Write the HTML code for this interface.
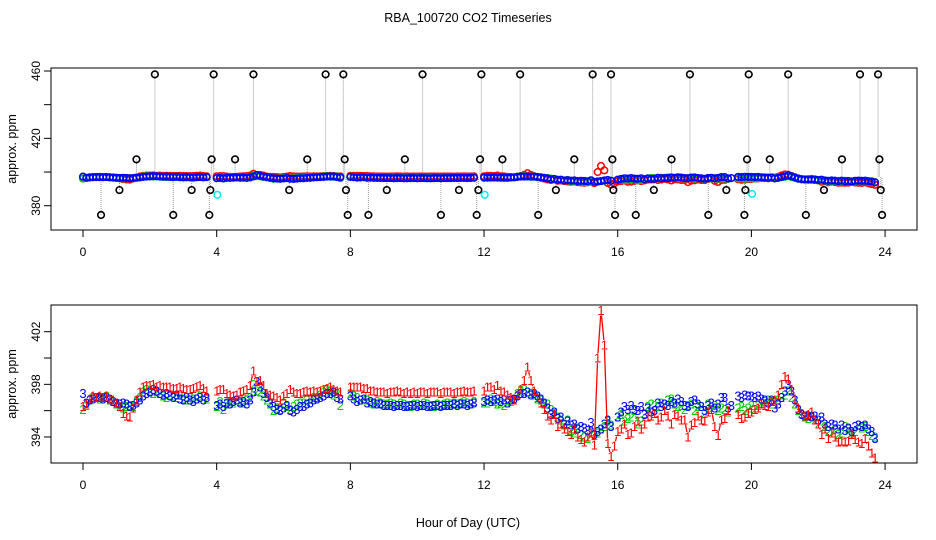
<!DOCTYPE html>
<html><head><meta charset="utf-8"><style>
html,body{margin:0;padding:0;background:#fff;}
svg{display:block;font-family:"Liberation Sans",sans-serif;}
</style></head><body>
<svg id="chart" width="936" height="540" viewBox="0 0 936 540">
<text x="468" y="22" text-anchor="middle" font-size="12.5">RBA_100720  CO2 Timeseries</text>
<text x="468" y="527" text-anchor="middle" font-size="12.5">Hour of Day (UTC)</text>
<g id="top"></g>
<g id="bot"></g>
</svg>
<script>
const step = 0.1;
const s1 = [396.3,396.5,396.9,397.1,397.0,397.1,397.0,397.1,396.9,396.8,
396.6,396.3,395.8,395.6,395.5,396.2,396.8,397.4,397.8,397.9,
397.9,398.0,397.8,397.9,397.8,397.8,397.8,397.7,397.7,397.8,
397.7,397.6,397.6,397.7,397.8,397.9,397.7,397.5,null,null,
397.5,397.6,397.6,397.3,397.2,397.1,397.2,397.4,397.5,397.6,
397.9,399.0,398.2,398.3,397.9,397.3,397.2,397.1,397.0,396.8,
397.1,397.3,397.6,397.4,397.3,397.3,397.4,397.5,397.4,397.5,
397.4,397.5,397.6,397.7,397.8,397.6,397.5,397.4,null,null,
397.8,397.8,397.8,397.8,397.7,397.7,397.5,397.5,397.4,397.4,
397.4,397.3,397.4,397.4,397.5,397.4,397.3,397.4,397.3,397.4,
397.3,397.4,397.4,397.3,397.4,397.4,397.4,397.3,397.4,397.4,
397.4,397.3,397.4,397.4,397.5,397.4,397.4,397.5,null,null,
397.5,397.8,397.8,397.6,397.9,397.5,397.4,397.2,397.0,396.8,
397.2,397.6,398.3,399.3,398.3,397.5,397.0,396.6,396.1,395.6,
395.3,395.7,394.8,395.0,394.6,394.4,394.2,394.6,394.0,393.8,
393.6,394.0,394.3,393.4,400.0,403.6,401.0,393.5,392.5,393.3,
394.4,394.6,395.0,394.2,394.3,394.8,395.2,394.6,395.0,395.5,
395.6,395.8,395.3,395.5,396.0,395.6,395.0,395.7,395.6,395.3,
395.3,394.0,394.9,395.1,395.6,395.3,395.2,395.9,396.1,394.8,
394.1,395.3,395.4,396.0,null,null,395.7,395.4,395.5,395.8,
395.9,396.1,396.2,396.5,396.4,396.3,396.7,396.8,397.2,398.0,
398.6,398.4,397.6,396.9,396.2,395.8,395.6,395.7,395.9,395.3,
395.0,394.2,394.6,393.9,394.3,394.0,393.6,393.7,393.6,393.7,
394.2,393.8,393.6,393.5,393.9,393.3,392.8,392.4,null,null];
const s2 = [396.1,396.4,396.8,397.0,397.0,396.9,397.0,397.1,396.8,396.7,
396.5,396.3,396.2,396.3,396.4,396.3,396.7,397.0,397.4,397.6,
397.5,397.3,397.4,397.3,397.1,397.0,397.2,397.1,397.0,397.2,
396.9,396.8,397.0,396.9,396.9,397.1,397.1,396.9,null,null,
396.3,396.7,396.1,396.5,396.7,396.6,396.8,396.7,396.6,396.8,
397.0,398.0,397.5,397.4,397.1,396.8,396.5,396.0,396.2,396.1,
396.6,396.3,396.1,396.3,396.5,396.6,396.6,396.8,396.9,397.0,
397.0,397.2,397.4,397.6,397.5,397.2,397.3,396.4,null,null,
397.3,397.1,397.0,396.8,397.1,396.8,396.6,396.5,396.7,396.6,
396.5,396.5,396.6,396.5,396.4,396.6,396.5,396.4,396.3,396.5,
396.5,396.4,396.6,396.5,396.4,396.3,396.5,396.4,396.5,396.6,
396.5,396.6,396.5,396.6,396.7,396.6,396.5,396.7,null,null,
396.6,396.6,396.9,396.7,396.5,396.6,396.4,396.6,396.7,396.8,
397.3,397.5,397.6,397.4,397.3,397.2,396.9,396.8,396.5,396.5,
396.1,395.8,395.5,395.3,394.9,395.3,394.5,394.3,394.7,394.2,
394.0,393.9,394.4,394.1,394.3,394.6,394.8,395.2,394.9,null,
395.5,395.7,395.2,395.4,395.5,396.0,395.0,395.2,395.8,396.3,
396.5,396.4,396.3,396.6,396.5,396.8,396.9,396.5,396.3,396.4,
396.1,396.4,396.5,396.0,396.3,396.3,395.8,396.5,396.1,396.4,
396.0,396.2,396.1,395.9,null,null,396.2,396.3,396.0,396.2,
396.4,396.1,396.4,396.6,396.7,396.8,396.5,396.7,396.8,397.0,
397.2,397.5,397.0,396.5,396.0,395.8,395.5,395.4,395.6,395.3,
395.0,395.2,394.8,394.4,394.3,394.6,394.2,394.3,394.8,394.6,
394.3,394.4,394.9,394.7,394.8,394.4,394.1,394.0,null,null];
const s3 = [397.3,396.6,396.8,396.9,397.0,397.0,396.9,397.0,396.9,396.7,
396.6,396.5,396.6,396.5,396.3,396.4,396.6,396.8,397.1,397.3,
397.4,397.6,397.5,397.3,397.2,397.3,397.1,397.0,397.2,396.9,
396.8,397.0,396.8,396.7,396.9,397.0,396.8,397.0,null,null,
396.4,396.5,396.3,396.6,396.5,396.7,396.8,396.6,396.7,396.5,
396.8,397.4,398.2,397.8,397.3,397.0,396.6,396.3,396.1,396.0,
396.2,396.4,396.0,395.9,396.1,396.3,396.3,396.5,396.6,396.8,
396.9,397.0,397.1,397.3,397.3,397.4,397.0,396.9,null,null,
397.1,396.9,396.7,396.8,396.9,396.6,396.7,396.6,396.5,396.5,
396.4,396.4,396.4,396.3,396.4,396.4,396.3,396.3,396.4,396.4,
396.3,396.4,396.4,396.3,396.3,396.4,396.4,396.3,396.4,396.4,
396.4,396.5,396.4,396.5,396.5,396.4,396.5,396.6,null,null,
396.7,396.8,396.7,396.8,396.9,396.7,396.8,396.6,396.8,396.9,
397.1,397.3,397.3,397.4,397.2,397.3,397.1,396.9,396.6,396.2,
395.7,395.9,395.4,395.5,395.0,395.2,394.9,395.0,394.6,394.8,
394.7,394.5,395.1,394.2,394.4,394.6,395.0,395.3,394.8,null,
395.5,395.9,396.3,396.1,396.4,396.1,396.0,396.3,395.7,396.2,
395.9,396.0,396.6,396.3,396.5,396.4,396.7,396.6,396.9,396.7,
396.4,396.3,396.7,396.8,396.5,396.3,396.0,396.4,396.6,396.2,
396.5,397.0,397.0,396.2,396.4,null,397.1,397.0,397.2,397.1,
397.1,397.0,397.1,396.9,396.8,396.6,396.8,396.2,396.5,397.0,
397.5,398.0,397.5,396.8,396.1,395.7,395.6,395.6,395.5,395.6,
395.3,395.5,395.0,394.8,395.0,394.9,394.6,394.9,394.5,394.7,
394.4,394.8,394.9,394.8,394.9,394.6,394.4,393.9,null,null];
const outHours = [0.54,1.09,1.6,2.15,2.7,3.25,3.78,3.81,3.85,3.91,4.55,5.1,6.17,6.71,7.26,7.79,7.83,7.87,7.92,8.54,9.09,9.63,10.16,10.71,11.25,11.78,11.83,11.88,11.92,12.55,13.08,13.62,14.15,14.7,15.25,15.8,15.84,15.87,15.92,16.54,17.08,17.61,18.16,18.71,19.25,19.79,19.82,19.87,19.92,20.55,21.1,21.63,22.17,22.71,23.25,23.79,23.83,23.87,23.91];
const outValues = [374.5,389.3,407.5,458,374.5,389.3,374.5,389.3,407.5,458,407.5,458,389.3,407.5,458,458,407.5,389.3,374.5,374.5,389.3,407.5,458,374.5,389.3,374.5,389.3,407.5,458,407.5,458,374.5,389.3,407.5,458,458,407.5,389.3,374.5,374.5,389.3,407.5,458,374.5,389.3,374.5,389.3,407.5,458,407.5,458,374.5,389.3,407.5,458,458,407.5,389.3,374.5];
const cyanHours = [4.02,12.02,20.02];
const cyanValues = [386.5,386.5,387.0];
const xTicks = [0,4,8,12,16,20,24];
const topTicks = [380,400,420,440,460];
const topLabels = ["380","","420","","460"];
const botTicks = [394,396,398,400,402];
const botLabels = ["394","","398","","402"];

const NS="http://www.w3.org/2000/svg";
function mk(parent,tag,attrs,txt){const e=document.createElementNS(NS,tag);for(const k in attrs)e.setAttribute(k,attrs[k]);if(txt!==undefined)e.textContent=txt;parent.appendChild(e);return e;}
const X = h => 83 + h*33.42;
const Ytop = v => 71 + (460-v)*1.684;
const Ybot = v => 331.7 + (402-v)*13.16;
const L=51,R=917;

function axes(g,Y,top,bottom,ticks,labels,name){
  const b=mk(g,'rect',{x:L,y:top,width:R-L,height:bottom-top,fill:'none',stroke:'#000','stroke-width':1});
  
  xTicks.forEach(t=>{
    const l=mk(g,'line',{x1:X(t),x2:X(t),y1:bottom,y2:bottom+7,stroke:'#000'});
    
    const tx=mk(g,'text',{x:X(t),y:bottom+26,'text-anchor':'middle','font-size':12},String(t));
    
  });
  ticks.forEach((t,i)=>{
    const l=mk(g,'line',{x1:L,x2:L-7,y1:Y(t),y2:Y(t),stroke:'#000'});
    
    if(labels[i]){
      const tx=mk(g,'text',{x:0,y:0,'text-anchor':'middle','font-size':12,transform:`translate(40,${Y(t)}) rotate(-90)`},labels[i]);
      
    }
  });
  const yt=mk(g,'text',{x:0,y:0,'text-anchor':'middle','font-size':12.5,transform:`translate(16,${(top+bottom)/2}) rotate(-90)`},'approx. ppm');
  
}

// TOP PANEL
const gt=document.getElementById('top');
axes(gt,Ytop,68,230,topTicks,topLabels,'top');
outHours.forEach((h,i)=>{
  const l=mk(gt,'line',{x1:X(h),x2:X(h),y1:Ytop(outValues[i]),y2:Ytop(397),stroke:'#999','stroke-dasharray':'1,1'});
  
});
[[s1,'#f00'],[s2,'#0c0'],[s3,'#00f']].forEach(([s,c],k)=>{
  s.forEach((v,i)=>{ if(v===null)return;
    const ci=mk(gt,'circle',{cx:X(i*step),cy:Ytop(v),r:3.3,fill:'none',stroke:c,'stroke-width':1.5});
    
  });
});
cyanHours.forEach((h,i)=>{
  const ci=mk(gt,'circle',{cx:X(h),cy:Ytop(cyanValues[i]),r:3.3,fill:'none',stroke:'#0ee','stroke-width':1.5});
  
});
outHours.forEach((h,i)=>{
  const ci=mk(gt,'circle',{cx:X(h),cy:Ytop(outValues[i]),r:3.3,fill:'none',stroke:'#000','stroke-width':1.6});
  
});

// BOTTOM PANEL
const gb=document.getElementById('bot');
axes(gb,Ybot,305,463,botTicks,botLabels,'bottom');
[[s2,'#0c0','2'],[s3,'#00f','3'],[s1,'#f00','1']].forEach(([s,c,ch])=>{
  const pts=s.map((v,i)=>v===null?null:[X(i*step),Ybot(v)]);
  for(let i=0;i+1<pts.length;i++){
    const a=pts[i],b=pts[i+1]; if(!a||!b)continue;
    const dx=b[0]-a[0],dy=b[1]-a[1],d=Math.hypot(dx,dy),r=5;
    if(d<=2*r)continue;
    const ux=dx/d,uy=dy/d;
    const l=mk(gb,'line',{x1:a[0]+ux*r,y1:a[1]+uy*r,x2:b[0]-ux*r,y2:b[1]-uy*r,stroke:c,'stroke-width':1.3});
    
  }
  pts.forEach(p=>{ if(!p)return;
    const t=mk(gb,'text',{x:p[0],y:p[1]+4.5,'text-anchor':'middle','font-size':13,fill:c},ch);
    
  });
});
</script>
</body></html>
